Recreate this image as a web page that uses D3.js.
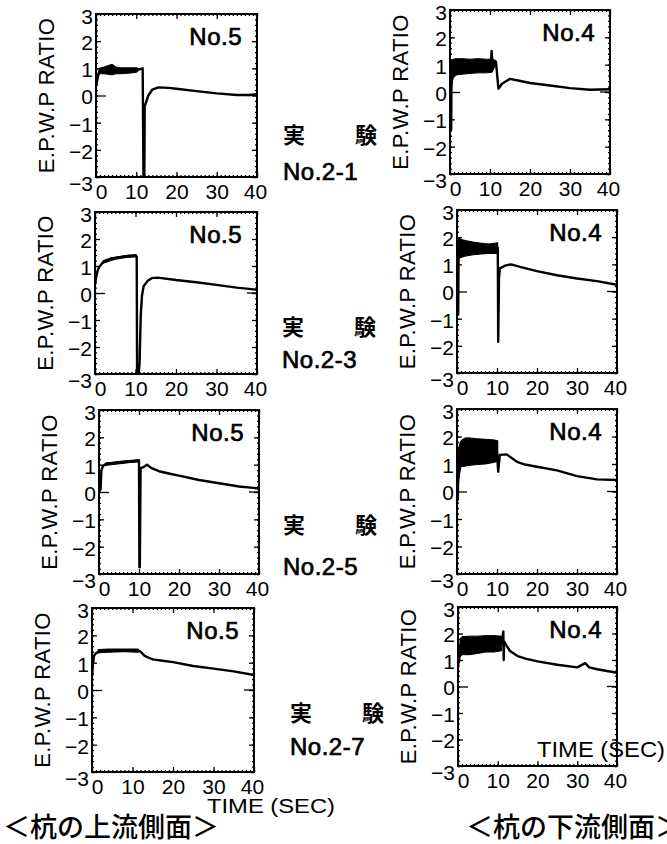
<!DOCTYPE html>
<html>
<head>
<meta charset="utf-8">
<title>E.P.W.P RATIO</title>
<script src="https://cdn.jsdelivr.net/npm/d3@7/dist/d3.min.js"></script>
<style>
body{margin:0;background:#fff;}
svg{display:block;}
text{font-family:"Liberation Sans",Arial,sans-serif;fill:#000;}
.jp{font-family:"Noto Sans CJK JP",sans-serif;}
</style>
</head>
<body>
<div id="chart"></div>
<script>
var W=667,H=844;

// tick labels and names
var xTicks=[0,10,20,30,40];
var yTicks=[3,2,1,0,-1,-2,-3];
var expNames=['No.2-1','No.2-3','No.2-5','No.2-7'];
var gaugeNames=['No.5','No.4'];
var sideNames=['＜杭の上流側面＞','＜杭の下流側面＞'];

// 実験 No.2-1, 上流側 No.5
var u21T=[0,0.3,0.8,10.5,11.6,11.8,12.0,12.1,13,14,15.5,18,20,25,30,35,38,40];
var u21V=[0.35,0.55,0.9,0.95,1.0,-3.2,-3.2,-0.4,0.0,0.22,0.3,0.28,0.25,0.16,0.08,0.02,0.02,0.05];
var u21BT=[0.8,2,3,4,5,6,8,10,10.5];
var u21BH=[1.0,1.05,1.1,1.15,1.05,1.02,1.02,1.02,1.0];
var u21BL=[0.8,0.8,0.78,0.76,0.8,0.8,0.82,0.85,0.9];
// 実験 No.2-1, 下流側 No.4
var d21T=[0,0.2,0.3,0.4,0.6,10.2,10.4,10.6,11.5,12.1,13,15,17,20,25,30,35,40];
var d21V=[0.5,1.1,-1.4,1.1,0.9,1.0,1.5,1.1,1.1,0.12,0.3,0.48,0.42,0.33,0.24,0.14,0.08,0.1];
var d21BT=[0.4,0.8,1.5,3,5,7,9,10.5,11.5];
var d21BH=[1.15,1.2,1.22,1.22,1.2,1.22,1.2,1.2,1.15];
var d21BL=[0.2,0.5,0.62,0.65,0.68,0.7,0.7,0.72,1.0];
// 実験 No.2-3, 上流側 No.5
var u23T=[0,0.3,0.7,1,1.5,2,3,4,6,8,10,10.3,10.4,10.7,11.0,11.3,11.6,12,13,14,15.5,20,25,30,35,40];
var u23V=[0.3,0.6,0.85,0.95,1.05,1.15,1.22,1.28,1.32,1.36,1.38,1.35,-3.2,-3.2,-2.6,-0.8,-0.1,0.25,0.45,0.55,0.57,0.48,0.4,0.3,0.2,0.12];
var u23BT=[2,5,8,10.2];
var u23BH=[1.2,1.33,1.4,1.42];
var u23BL=[1.1,1.25,1.32,1.34];
// 実験 No.2-3, 下流側 No.4
var d23T=[0,0.2,0.3,0.4,0.5,10.0,10.2,10.3,10.5,10.7,12,13.5,16,20,25,30,35,40];
var d23V=[0.8,1.6,-0.85,1.6,1.6,1.6,1.6,-1.85,0.5,0.85,0.95,1.0,0.9,0.75,0.6,0.48,0.38,0.25];
var d23BT=[0.3,1,2,4,6,8,9.5,10.2];
var d23BH=[2.0,1.92,1.88,1.82,1.78,1.75,1.78,1.8];
var d23BL=[1.2,1.25,1.3,1.35,1.38,1.4,1.4,1.4];
// 実験 No.2-5, 上流側 No.5
var u25T=[0,0.4,0.6,1.0,1.5,2,3,5,8,10,10.1,10.2,10.4,11,12,13,15,18,20,25,30,35,40];
var u25V=[0.0,0.1,0.8,0.95,1.0,1.05,1.05,1.08,1.12,1.15,-2.75,-2.75,0.87,0.9,1.0,0.88,0.76,0.66,0.6,0.44,0.32,0.2,0.13];
var u25BT=[1.5,5,8,10];
var u25BH=[1.05,1.12,1.16,1.18];
var u25BL=[0.97,1.03,1.08,1.1];
// 実験 No.2-5, 下流側 No.4
var d25T=[0,0.2,0.3,0.5,10.0,10.3,10.7,12.4,15,17,20,25,30,35,40];
var d25V=[0.2,-0.3,0.8,1.2,1.4,0.72,1.33,1.35,1.08,0.98,0.9,0.77,0.56,0.44,0.42];
var d25BT=[0.3,0.6,1,2,3,5,7,9,10.2];
var d25BH=[1.5,1.7,1.85,1.95,1.95,1.92,1.9,1.88,1.85];
var d25BL=[0.2,0.6,0.9,0.92,0.95,0.98,1.0,1.05,1.1];
// 実験 No.2-7, 上流側 No.5
var u27T=[0,0.2,0.5,1,2,5,8,10,11.5,12,13,14,15,17,20,25,30,35,40];
var u27V=[0.45,0.9,1.25,1.35,1.42,1.43,1.45,1.45,1.43,1.4,1.25,1.18,1.12,1.08,1.02,0.88,0.78,0.68,0.55];
var u27BT=[1.5,4,8,11.5];
var u27BH=[1.48,1.5,1.5,1.5];
var u27BL=[1.36,1.38,1.4,1.38];
// 実験 No.2-7, 下流側 No.4
var d27T=[0,0.3,0.5,11,11.4,11.5,11.6,12,13,15,17,20,25,30,32,33,35,40];
var d27V=[0.8,1.0,1.5,1.6,2.08,1.0,1.7,1.6,1.35,1.15,1.05,0.95,0.82,0.72,0.88,0.72,0.65,0.52];
var d27BT=[0.5,1,3,5,7,9,11];
var d27BH=[1.8,1.88,1.9,1.9,1.92,1.92,1.9];
var d27BL=[1.1,1.2,1.2,1.25,1.3,1.3,1.35];

// panel frames (left column = 上流, right column = 下流)
var frames=[
  {x:96,y:14,w:161,h:163},{x:450,y:10,w:160,h:164},
  {x:95,y:212,w:162,h:162},{x:457,y:210,w:160,h:163},
  {x:99,y:410,w:160,h:164},{x:457,y:409,w:160,h:165},
  {x:92,y:608,w:162,h:164},{x:458,y:607,w:159,h:159}
];

var panels=[
  {t:u21T,v:u21V,bt:u21BT,bh:u21BH,bl:u21BL},
  {t:d21T,v:d21V,bt:d21BT,bh:d21BH,bl:d21BL},
  {t:u23T,v:u23V,bt:u23BT,bh:u23BH,bl:u23BL},
  {t:d23T,v:d23V,bt:d23BT,bh:d23BH,bl:d23BL},
  {t:u25T,v:u25V,bt:u25BT,bh:u25BH,bl:u25BL},
  {t:d25T,v:d25V,bt:d25BT,bh:d25BH,bl:d25BL},
  {t:u27T,v:u27V,bt:u27BT,bh:u27BH,bl:u27BL},
  {t:d27T,v:d27V,bt:d27BT,bh:d27BH,bl:d27BL}
];

var svg=d3.select('#chart').append('svg')
          .attr('width',W)
          .attr('height',H);

panels.forEach(function(p,i){
  var f=frames[i];
  var x=d3.scaleLinear().domain([0,40]).range([f.x,f.x+f.w]);
  var y=d3.scaleLinear().domain([-3,3]).range([f.y+f.h,f.y]);
  var g=svg.append('g');

  g.append('clipPath').attr('id','clip'+i)
   .append('rect').attr('x',f.x).attr('y',f.y).attr('width',f.w).attr('height',f.h);

  // minor ticks
  var minorX=d3.range(0,41,1), minorY=d3.range(-3,3.01,0.2);
  g.append('g').attr('transform','translate(0,'+(f.y+f.h)+')')
   .call(d3.axisBottom(x).tickValues(minorX).tickSize(-2).tickFormat(''));
  g.append('g').attr('transform','translate(0,'+f.y+')')
   .call(d3.axisTop(x).tickValues(minorX).tickSize(-2).tickFormat(''));
  g.append('g').attr('transform','translate('+f.x+',0)')
   .call(d3.axisLeft(y).tickValues(minorY).tickSize(-2).tickFormat(''));
  g.append('g').attr('transform','translate('+(f.x+f.w)+',0)')
   .call(d3.axisRight(y).tickValues(minorY).tickSize(-2).tickFormat(''));

  // major ticks + labels
  var xb=g.append('g').attr('transform','translate(0,'+(f.y+f.h)+')')
   .call(d3.axisBottom(x).tickValues(xTicks).tickSize(-5).tickPadding(7));
  g.append('g').attr('transform','translate(0,'+f.y+')')
   .call(d3.axisTop(x).tickValues(xTicks).tickSize(-5).tickFormat(''));
  var yl=g.append('g').attr('transform','translate('+f.x+',0)')
   .call(d3.axisLeft(y).tickValues(yTicks).tickSize(-5).tickPadding(3)
     .tickFormat(function(d){return d<0?'\u2212'+(-d):d;}));
  g.append('g').attr('transform','translate('+(f.x+f.w)+',0)')
   .call(d3.axisRight(y).tickValues(yTicks).tickSize(-5).tickFormat(''));

  g.selectAll('.domain').remove();
  g.selectAll('.tick line').attr('stroke','#000').attr('stroke-width',1.3);
  g.selectAll('.tick text').attr('font-size',21).attr('font-family','"Liberation Sans",Arial,sans-serif').attr('fill','#000');
  xb.selectAll('.tick text').attr('dy','0.72em')
    .attr('dx',function(d){return d===0?5:d===40?-2:0;});
  yl.selectAll('.tick text').attr('dy',function(d){return d===-3?'0.62em':d===3?'0.45em':'0.4em';});
  yl.selectAll('.tick').filter(function(d){return d===0;}).select('line').attr('x2',10);

  // zero tick on right side
  g.append('line').attr('x1',f.x+f.w).attr('x2',f.x+f.w-10)
   .attr('y1',y(0)).attr('y2',y(0)).attr('stroke','#000').attr('stroke-width',1.3);

  // frame
  g.append('rect').attr('x',f.x).attr('y',f.y).attr('width',f.w).attr('height',f.h)
   .attr('fill','none').attr('stroke','#000').attr('stroke-width',2);

  var plot=g.append('g').attr('clip-path','url(#clip'+i+')');

  // oscillation band
  var band=d3.area()
    .x(function(d){return x(d[0]);})
    .y0(function(d){return y(d[2]);})
    .y1(function(d){return y(d[1]);});
  plot.append('path')
    .datum(d3.zip(p.bt,p.bh,p.bl))
    .attr('d',band)
    .attr('fill','#000')
    .attr('stroke','#000')
    .attr('stroke-width',1);

  var line=d3.line()
    .x(function(d){return x(d[0]);})
    .y(function(d){return y(d[1]);});
  plot.append('path')
    .datum(d3.zip(p.t,p.v))
    .attr('d',line)
    .attr('fill','none')
    .attr('stroke','#000')
    .attr('stroke-width',2.4)
    .attr('stroke-linejoin','round');

  // gauge name
  g.append('text')
   .attr('x',f.x+f.w-15).attr('y',f.y+31)
   .attr('text-anchor','end')
   .attr('font-size',24).attr('letter-spacing',0.5)
   .attr('stroke','#000').attr('stroke-width',0.7)
   .text(gaugeNames[i%2]);

  // y axis title
  g.append('text')
   .attr('transform','translate('+(f.x-42)+','+(f.y+f.h/2)+') rotate(-90)')
   .attr('text-anchor','middle')
   .attr('font-size',22).attr('letter-spacing',0.4)
   .text('E.P.W.P RATIO');
});

// experiment labels
var expPos=[{x:283,y1:143,y2:180},{x:282,y1:335,y2:368},{x:283,y1:533,y2:575},{x:290,y1:721,y2:755}];
expPos.forEach(function(e,i){
  svg.append('text').attr('class','jp').attr('x',e.x).attr('y',e.y1)
     .attr('font-size',22).attr('font-weight','bold').text('実');
  svg.append('text').attr('class','jp').attr('x',e.x+72).attr('y',e.y1)
     .attr('font-size',22).attr('font-weight','bold').text('験');
  svg.append('text').attr('x',e.x).attr('y',e.y2)
     .attr('font-size',24).attr('letter-spacing',0.5)
     .attr('stroke','#000').attr('stroke-width',0.7)
     .text(expNames[i]);
});

// time labels
svg.append('text').attr('x',207).attr('y',813).attr('font-size',21)
   .attr('textLength',128).attr('lengthAdjust','spacingAndGlyphs').text('TIME (SEC)');
svg.append('text').attr('x',537).attr('y',757).attr('font-size',22)
   .attr('textLength',128).attr('lengthAdjust','spacingAndGlyphs').text('TIME (SEC)');

// side labels
svg.append('text').attr('class','jp').attr('x',3).attr('y',837).attr('font-size',27).attr('font-weight',500).text(sideNames[0]);
svg.append('text').attr('class','jp').attr('x',466).attr('y',837).attr('font-size',27).attr('font-weight',500).text(sideNames[1]);
</script>
</body>
</html>
